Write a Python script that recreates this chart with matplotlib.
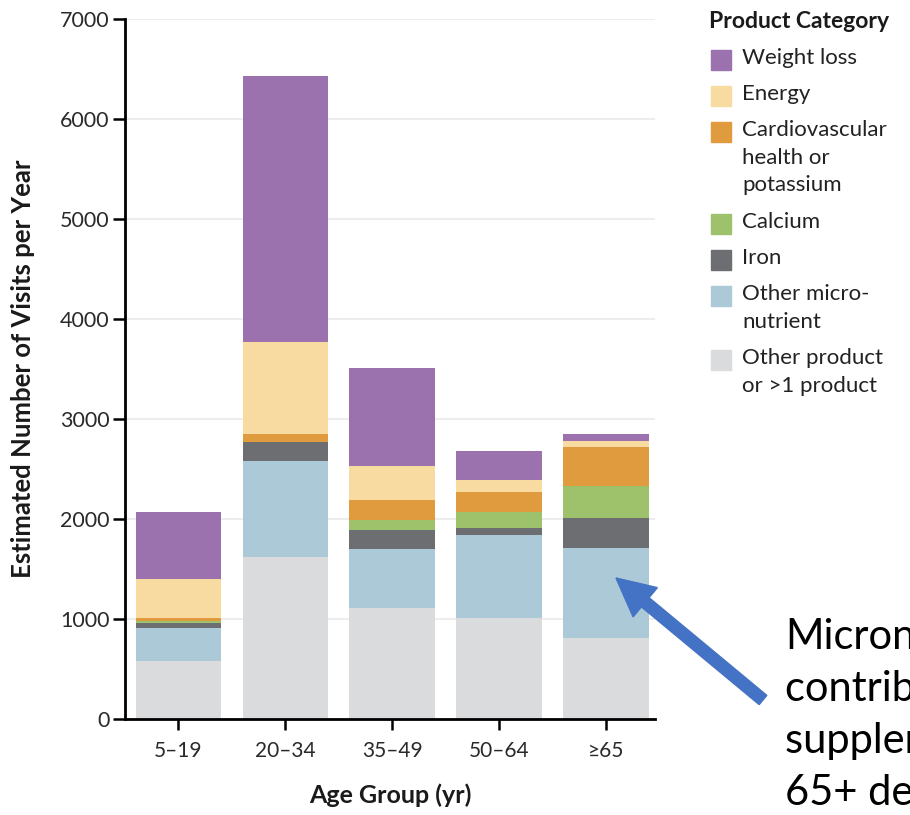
import matplotlib
matplotlib.use('Agg')
import matplotlib.pyplot as plt
import matplotlib.patches as mpatches
from matplotlib.transforms import IdentityTransform

plt.rcParams['font.family'] = ['Lato', 'DejaVu Sans']

age_groups = ['5\u201319', '20\u201334', '35\u201349', '50\u201364', '\u226565']

# stacked from the bottom up
other_product = [580, 1620, 1110, 1010, 810]
other_micro = [330, 960, 593, 827, 896]
iron = [53, 186, 184, 70, 304]
calcium = [17, 0, 103, 166, 316]
cardio = [33, 87, 200, 200, 390]
energy = [387, 913, 340, 117, 67]
weight_loss = [670, 2660, 980, 290, 70]

series = [
    ('Other product\nor >1 product', other_product, '#DADBDD'),
    ('Other micro-\nnutrient', other_micro, '#ABC9D6'),
    ('Iron', iron, '#6C6E71'),
    ('Calcium', calcium, '#9DC26B'),
    ('Cardiovascular\nhealth or\npotassium', cardio, '#E09B3E'),
    ('Energy', energy, '#F8DBA0'),
    ('Weight loss', weight_loss, '#9B72AE'),
]

W, H = 910, 815
fig = plt.figure(figsize=(W / 100, H / 100), dpi=100)
ax = fig.add_axes([125 / W, (H - 719) / H, (655 - 125) / W, 700 / H])

x = list(range(len(age_groups)))
bottom = [0] * len(age_groups)
for name, vals, col in series:
    ax.bar(x, vals, width=0.8, bottom=bottom, color=col, edgecolor='none', zorder=2)
    bottom = [b + v for b, v in zip(bottom, vals)]

ax.set_ylim(0, 7000)
ax.set_xlim(-0.5, 4.46)
ax.set_yticks(range(0, 7001, 1000))
ax.set_xticks(x)
ax.set_xticklabels(age_groups)
ax.yaxis.grid(True, color='#EDEDED', lw=1.5, zorder=0)
ax.set_axisbelow(True)

for s in ['top', 'right']:
    ax.spines[s].set_visible(False)
for s in ['left', 'bottom']:
    ax.spines[s].set_linewidth(2)
    ax.spines[s].set_color('black')
ax.tick_params(axis='y', length=9, width=1.8, labelsize=15.5, pad=2, labelcolor='#2a2a2a')
ax.tick_params(axis='x', length=8, width=1.8, labelsize=15, pad=8, labelcolor='#2a2a2a')

ax.set_ylabel('Estimated Number of Visits per Year', fontsize=18.5, fontweight='bold',
              labelpad=18, color='#1a1a1a')
ax.set_xlabel('Age Group (yr)', fontsize=18, fontweight='bold', labelpad=16, color='#1a1a1a')

# legend, drawn by hand so the squares sit on the first text line
fig.text(709 / W, 1 - 22 / H, 'Product Category', fontsize=16.5, fontweight='bold',
         va='center', ha='left', color='#1a1a1a')
legend_items = list(reversed(series))
yy = 60
for name, vals, col in legend_items:
    fig.patches.append(mpatches.Rectangle((711 / W, 1 - (yy + 10) / H), 20 / W, 20 / H,
                                          transform=fig.transFigure, color=col, figure=fig))
    fig.text(742 / W, 1 - (yy - 12) / H, name, fontsize=16, va='top', ha='left',
             linespacing=1.47, color='#222222')
    nlines = name.count('\n') + 1
    yy += 36 + 28 * (nlines - 1)

# arrow and the note on the right
tip = (616, H - 578)
tail = (763, H - 700)
arrow = mpatches.FancyArrow(tail[0], tail[1], tip[0] - tail[0], tip[1] - tail[1],
                            width=12, head_width=38, head_length=38,
                            length_includes_head=True, color='#4472C4',
                            transform=IdentityTransform())
fig.add_artist(arrow)
note = ['Micronutrients', 'contribute to', 'supplement visits in', '65+ demographic']
for i, line in enumerate(note):
    fig.text(785 / W, 1 - (637 + 52 * i) / H, line, fontsize=30, va='center', ha='left',
             color='black')

fig.savefig('out.png', dpi=100)
